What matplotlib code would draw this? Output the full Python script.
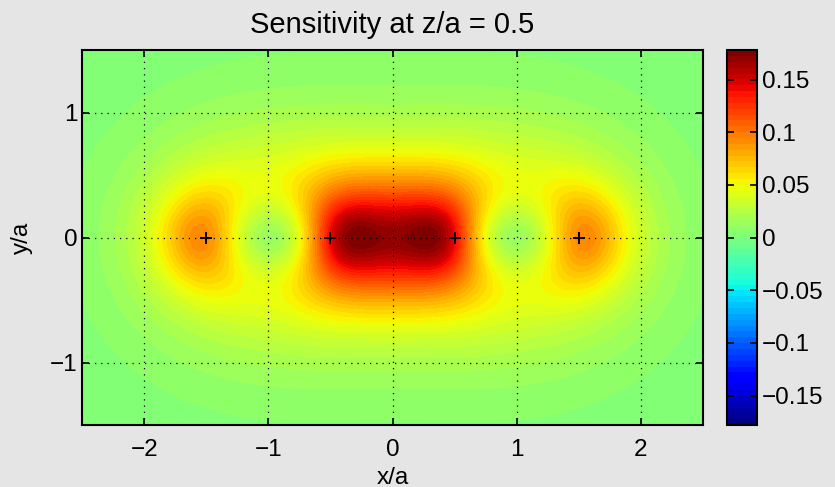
import matplotlib
matplotlib.use("Agg")
import matplotlib.pyplot as plt
import numpy as np

# four-electrode array on the surface (x/a), Wenner order A M N B
elec_x = [-1.5, -0.5, 0.5, 1.5]
elec_sign_current = {"A": 1.0, "B": -1.0}
elec_sign_potential = {"M": 1.0, "N": -1.0}
elec_pos = {"A": -1.5, "M": -0.5, "N": 0.5, "B": 1.5}
depth = 0.5

xlim = [-2.5, 2.5]
ylim = [-1.5, 1.5]
xticks = [-2, -1, 0, 1, 2]
yticks = [-1, 0, 1]
cticks = [-0.15, -0.1, -0.05, 0, 0.05, 0.1, 0.15]
ctick_labels = ["\u22120.15", "\u22120.1", "\u22120.05", "0", "0.05", "0.1", "0.15"]

plt.rcParams['font.family'] = ['Liberation Sans', 'DejaVu Sans']
plt.rcParams['font.size'] = 17.5

x = np.linspace(xlim[0], xlim[1], 501)
y = np.linspace(ylim[0], ylim[1], 301)
X, Y = np.meshgrid(x, y)
Z = depth

# 3D Frechet derivative for a homogeneous half-space
S = np.zeros_like(X)
for c, sc in elec_sign_current.items():
    for p, sp in elec_sign_potential.items():
        xc = elec_pos[c]
        xp = elec_pos[p]
        dot = (X - xc) * (X - xp) + Y**2 + Z**2
        rc = ((X - xc)**2 + Y**2 + Z**2) ** 1.5
        rp = ((X - xp)**2 + Y**2 + Z**2) ** 1.5
        S += sc * sp * dot / (rc * rp)
S = S / (4 * np.pi)

vmax = np.abs(S).max()
levels = np.linspace(-vmax, vmax, 65)

fig = plt.figure(figsize=(8.35, 4.87), dpi=100, facecolor="#e5e5e5")
ax = fig.add_axes([0.0982, 0.127, 0.7438, 0.770])
cs = ax.contourf(X, Y, S, levels=levels, cmap=plt.get_cmap("jet", 64),
                 vmin=-vmax, vmax=vmax)
ax.plot(elec_x, [0] * len(elec_x), "k+", markersize=9, markeredgewidth=1.4)
ax.set_xlim(xlim)
ax.set_ylim(ylim)
ax.set_xticks(xticks)
ax.set_yticks(yticks)
ax.set_xticklabels([str(t).replace("-", "\u2212") for t in xticks])
ax.set_yticklabels([str(t).replace("-", "\u2212") for t in yticks])
ax.grid(True, color="k", linestyle=(0, (1, 4)), linewidth=0.9)
ax.tick_params(direction="in", top=True, right=True, length=5, width=1.2)
ax.tick_params(axis="x", pad=10)
for s in ax.spines.values():
    s.set_linewidth(1.5)
ax.set_xlabel("x/a", labelpad=4)
ax.set_ylabel("y/a", labelpad=12)
ax.set_title("Sensitivity at z/a = 0.5", pad=12)

cax = fig.add_axes([0.8707, 0.127, 0.0359, 0.770])
cb = fig.colorbar(cs, cax=cax, ticks=cticks)
cb.ax.set_yticklabels(ctick_labels)
cb.ax.tick_params(direction="in", length=5, width=1.2, right=True, left=True)
cb.outline.set_linewidth(1.5)

fig.savefig("out.png", dpi=100, facecolor=fig.get_facecolor())
